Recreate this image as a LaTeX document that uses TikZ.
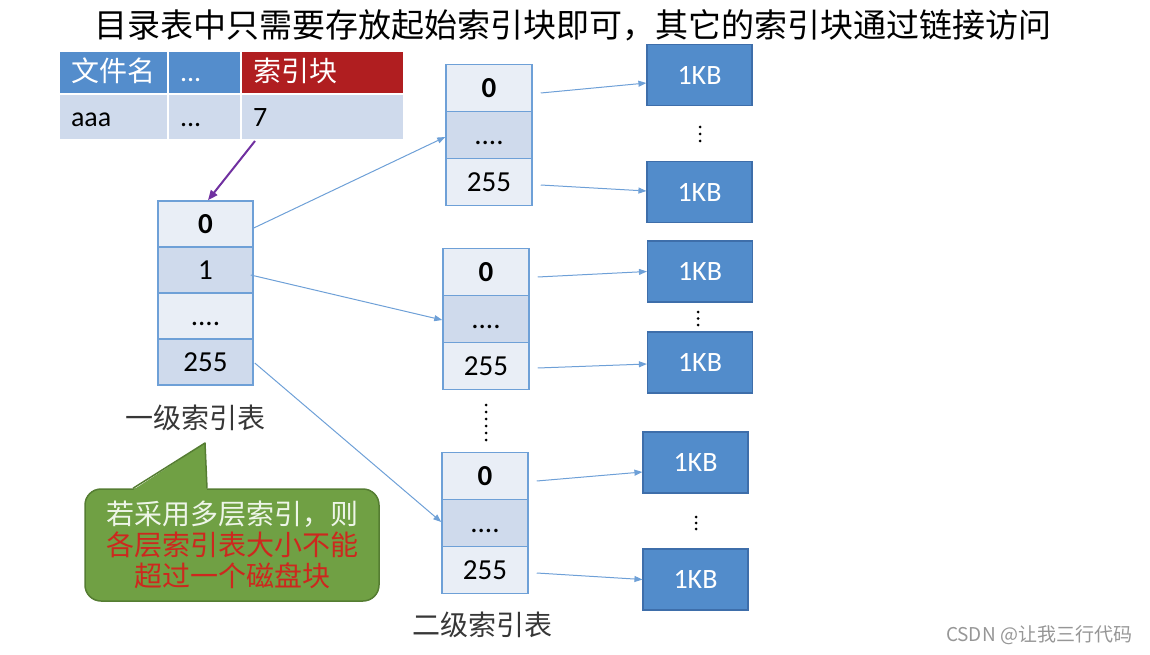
\documentclass[tikz,border=0pt]{standalone}
\usepackage{fontspec}
\setmainfont{Carlito}
\newfontfamily\cjk{Noto Sans CJK SC}
\usetikzlibrary{arrows.meta,calc}
\definecolor{hdrblue}{RGB}{84,141,204}
\definecolor{hdrred}{RGB}{176,30,32}
\definecolor{rowblue}{RGB}{207,218,236}
\definecolor{celllight}{RGB}{233,238,246}
\definecolor{celldark}{RGB}{207,218,236}
\definecolor{cellbord}{RGB}{110,160,215}
\definecolor{kbfill}{RGB}{82,140,203}
\definecolor{kbbord}{RGB}{62,110,170}
\definecolor{arrblue}{RGB}{110,160,215}
\definecolor{purp}{RGB}{112,48,160}
\definecolor{calgreen}{RGB}{112,160,68}
\definecolor{calbord}{RGB}{85,125,50}
\definecolor{calred}{RGB}{205,40,30}
\definecolor{calwhite}{RGB}{238,245,232}
\definecolor{labgray}{RGB}{55,55,55}
\definecolor{wmgray}{RGB}{150,150,150}
\begin{document}
\begin{tikzpicture}[x=1pt,y=-1pt,
  tcell/.style={rectangle, draw=white, line width=2pt, inner xsep=12pt, inner ysep=0pt,
    align=left, text height=22pt, text depth=3.5pt, font=\fontsize{28}{28}\selectfont},
  lcell/.style={rectangle, draw=cellbord, line width=1.5pt, inner sep=0pt,
    text height=18.5pt, text depth=0pt,
    minimum width=95pt, minimum height=46pt, font=\fontsize{29}{29}\selectfont},
  scell/.style={rectangle, draw=cellbord, line width=1.5pt, inner sep=0pt,
    text height=18.5pt, text depth=0pt,
    minimum width=86pt, minimum height=47pt, font=\fontsize{29}{29}\selectfont},
  kbox/.style={rectangle, fill=kbfill, draw=kbbord, line width=1.2pt, inner sep=0pt,
    minimum width=105pt, minimum height=61pt, text=white, font=\fontsize{28}{28}\selectfont},
  arr/.style={draw=arrblue, line width=1pt, -{Triangle[length=8pt,width=6pt]}},
  parr/.style={draw=purp, line width=2pt, -{Triangle[length=10pt,width=8pt]}},
  lab/.style={text=labgray, font=\cjk\fontsize{28}{28}\selectfont},
  kdot/.style={fill=black}
]
\useasboundingbox (0,0) rectangle (1150,655);

% title
\node (title) at (573,25) {\cjk\fontsize{33}{33}\selectfont 目录表中只需要存放起始索引块即可，其它的索引块通过链接访问};

% directory table
\node[tcell, fill=hdrblue, text=white, minimum height=43.5pt, text width=85pt] (hname) at (113.5,72.75) {\cjk 文件名};
\node[tcell, fill=hdrblue, text=white, minimum height=43.5pt, text width=49pt] (hdots) at (204.5,72.75) {{.}{.}{.}};
\node[tcell, fill=hdrred, text=white, minimum height=43.5pt, text width=139pt] (hidx) at (322.5,72.75) {\cjk 索引块};
\node[tcell, fill=rowblue, minimum height=45.5pt, text width=85pt] (cname) at (113.5,117.25) {aaa};
\node[tcell, fill=rowblue, minimum height=45.5pt, text width=49pt] (cdots) at (204.5,117.25) {{.}{.}{.}};
\node[tcell, fill=rowblue, minimum height=45.5pt, text width=139pt] (cidx) at (322.5,117.25) {7};

% first-level index table
\node[lcell, fill=celllight] (l0) at (205.5,224) {\bfseries 0};
\node[lcell, fill=celldark]  (l1) at (205.5,270) {1};
\node[lcell, fill=celllight] (l2) at (205.5,316) {....};
\node[lcell, fill=celldark]  (l3) at (205.5,362) {255};
\node[lab] (lab1) at (195,418) {一级索引表};

% second-level tables
\node[scell, fill=celllight] (t1a) at (489,88)  {\bfseries 0};
\node[scell, fill=celldark]  (t1b) at (489,135) {....};
\node[scell, fill=celllight] (t1c) at (489,182) {255};

\node[scell, fill=celllight] (t2a) at (486,272) {\bfseries 0};
\node[scell, fill=celldark]  (t2b) at (486,319) {....};
\node[scell, fill=celllight] (t2c) at (486,366) {255};

\node[scell, fill=celllight] (t3a) at (485,476) {\bfseries 0};
\node[scell, fill=celldark]  (t3b) at (485,523) {....};
\node[scell, fill=celllight] (t3c) at (485,570) {255};
\node[lab] (lab2) at (482,625) {二级索引表};

\foreach \y in {405,412,419,426,433,440} \fill[kdot] (486,\y) circle (1.5pt);

% data blocks
\node[kbox] (b1) at (699.5,75)   {1KB};
\node[kbox] (b2) at (699.5,192)  {1KB};
\node[kbox] (b3) at (700,271.5)  {1KB};
\node[kbox] (b4) at (700,362.5)  {1KB};
\node[kbox] (b5) at (695.5,462.5){1KB};
\node[kbox] (b6) at (695.5,579.5){1KB};
\foreach \y in {127,134,141} \fill[kdot] (700,\y) circle (1.5pt);
\foreach \y in {312,318.5,325} \fill[kdot] (698,\y) circle (1.5pt);
\foreach \y in {517,523,529} \fill[kdot] (696,\y) circle (1.5pt);

% connectors
\draw[parr] ($(cidx.south west)+(15,0)$) -- ($(l0.north)+(2.5,0)$);
\draw[arr] ($(l0.east)+(0,4)$) -- ($(t1b.west)+(0,2)$);
\draw[arr] ($(l1.east)+(-3,5)$) -- ($(t2b.west)+(0,1)$);
\draw[arr] ($(l3.east)+(1,1)$) -- ($(t3b.west)+(0,-1)$);

\draw[arr] ($(t1a.east)+(8,5)$) -- ($(b1.west)+(0,8)$);
\draw[arr] ($(t1c.east)+(8,3)$) -- ($(b2.west)+(0,-1)$);
\draw[arr] ($(t2a.east)+(8,5)$) -- ($(b3.west)+(0,0)$);
\draw[arr] ($(t2c.east)+(8,2)$) -- ($(b4.west)+(0,1.5)$);
\draw[arr] ($(t3a.east)+(8,5)$) -- ($(b5.west)+(0,9.5)$);
\draw[arr] ($(t3c.east)+(8,3)$) -- ($(b6.west)+(0,0)$);

% callout
\node[rectangle, rounded corners=16pt, fill=calgreen, draw=calbord, line width=1.5pt,
      minimum width=294pt, minimum height=112pt, align=center,
      font=\cjk\fontsize{28}{31}\selectfont] (note) at (232,545)
  {\textcolor{calwhite}{若采用多层索引，则}\\\textcolor{calred}{各层索引表大小不能}\\\textcolor{calred}{超过一个磁盘块}};
\fill[calgreen] (133,490) -- (205,443) -- (207,490) -- cycle;
\draw[calbord, line width=1.5pt, line join=round] (133,488.3) -- (205,443) -- (207,488.3);

% watermark
\node[text=wmgray, font=\cjk\fontsize{19}{19}\selectfont] (wm) at (1039,635) {CSDN @让我三行代码};
\end{tikzpicture}
\end{document}
